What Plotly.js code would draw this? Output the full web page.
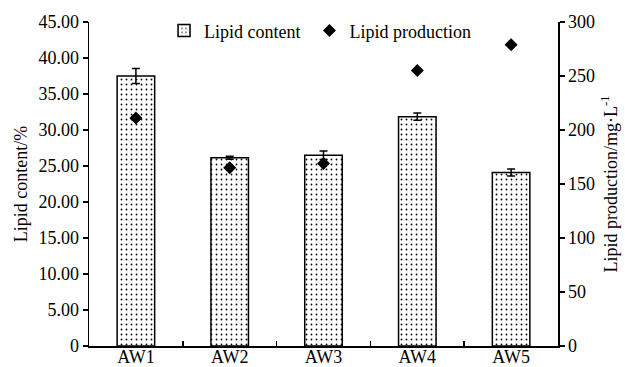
<!DOCTYPE html>
<html><head><meta charset="utf-8">
<script src="https://cdn.plot.ly/plotly-3.0.1.min.js"></script>
<style>body{margin:0;background:#fff}#c{width:625px;height:367px}</style>
</head><body><div id="c"></div>
<script>
const categories = ["AW1","AW2","AW3","AW4","AW5"];
const lipidContent = [37.5, 26.15, 26.5, 31.85, 24.1];
const lipidContentErr = [1.05, 0.2, 0.6, 0.5, 0.5];
const lipidProduction = [211, 165, 169, 255, 279];
const leftTickVals = [0,5,10,15,20,25,30,35,40,45];
const leftTickText = ["0","5.00","10.00","15.00","20.00","25.00","30.00","35.00","40.00","45.00"];
const rightTickVals = [0,50,100,150,200,250,300];

const font = {family:"Liberation Serif, Times New Roman, serif", size:18, color:"#000"};
const traces = [
 {type:"bar", name:"Lipid content", x:categories, y:lipidContent, width:0.4, legend:"legend",
  marker:{color:"#fff", line:{color:"#000", width:1.5},
          pattern:{shape:".", fgcolor:"#000", bgcolor:"#fff", size:5, solidity:0.1}},
  error_y:{type:"data", array:lipidContentErr, visible:true, color:"#000", thickness:1.5, width:4}},
 {type:"scatter", mode:"markers", name:"Lipid production", x:categories, y:lipidProduction, yaxis:"y2", legend:"legend2",
  marker:{symbol:"diamond", size:10, color:"#000"}}
];
const legendBase = {orientation:"h", y:1.03, xanchor:"left", yanchor:"top", bgcolor:"rgba(0,0,0,0)", font:font, itemwidth:30};
const layout = {
 width:625, height:367, margin:{l:89, r:67, t:22, b:21},
 paper_bgcolor:"#fff", plot_bgcolor:"#fff", font:font, showlegend:true,
 legend:Object.assign({}, legendBase, {x:0.16}),
 legend2:Object.assign({}, legendBase, {x:0.47}),
 xaxis:{type:"category", range:[-0.5,4.5], showline:true, linecolor:"#000", linewidth:1.5,
   ticks:"inside", tickson:"boundaries", ticklen:5, tickcolor:"#000", tickwidth:1.5, showgrid:false, zeroline:false, tickfont:font,
   ticklabelstandoff:-6},
 yaxis:{range:[0,45], tickvals:leftTickVals, ticktext:leftTickText, showline:true, linecolor:"#000", linewidth:1.5,
   ticks:"outside", ticklen:5, tickcolor:"#000", tickwidth:1.5, showgrid:false, zeroline:false, tickfont:font,
   title:{text:"Lipid content/%", font:font, standoff:6}},
 yaxis2:{range:[0,300], tickvals:rightTickVals, overlaying:"y", side:"right", showline:true, linecolor:"#000", linewidth:1.5,
   ticks:"outside", ticklen:5, tickcolor:"#000", tickwidth:1.5, showgrid:false, zeroline:false, tickfont:font,
   title:{text:"Lipid production/mg·L<sup>-1</sup>", font:font, standoff:10}}
};
Plotly.newPlot("c", traces, layout, {displayModeBar:false, staticPlot:true});
</script></body></html>
